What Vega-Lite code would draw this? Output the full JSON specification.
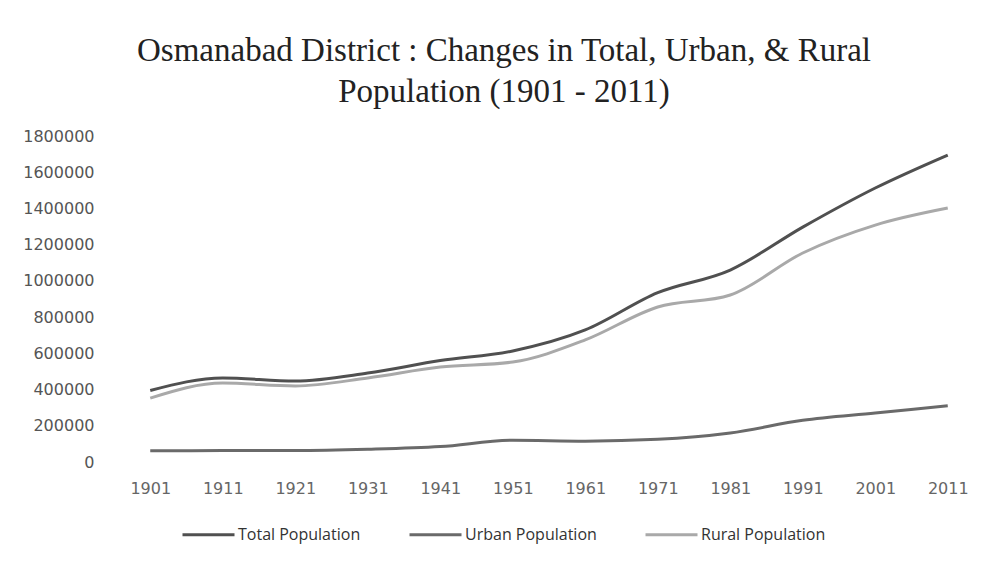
{
  "$schema": "https://vega.github.io/schema/vega-lite/v6.json",
  "width": 870,
  "height": 326,
  "autosize": {"type": "none"},
  "padding": {"left": 114, "top": 136, "right": 17, "bottom": 110},
  "background": "white",
  "title": {
    "text": ["Osmanabad District : Changes in Total, Urban, & Rural", "Population (1901 - 2011)"],
    "font": "Liberation Serif",
    "fontSize": 33,
    "fontWeight": "normal",
    "color": "#222222",
    "lineHeight": 41,
    "anchor": "middle",
    "baseline": "alphabetic",
    "dx": -45,
    "dy": 43,
    "offset": 36
  },
  "data": {
    "values": [
      {"year": "1901", "series": "Total Population", "value": 395000},
      {"year": "1911", "series": "Total Population", "value": 464000},
      {"year": "1921", "series": "Total Population", "value": 447000},
      {"year": "1931", "series": "Total Population", "value": 491000},
      {"year": "1941", "series": "Total Population", "value": 560000},
      {"year": "1951", "series": "Total Population", "value": 613000},
      {"year": "1961", "series": "Total Population", "value": 729000},
      {"year": "1971", "series": "Total Population", "value": 935000},
      {"year": "1981", "series": "Total Population", "value": 1060000},
      {"year": "1991", "series": "Total Population", "value": 1297000},
      {"year": "2001", "series": "Total Population", "value": 1513000},
      {"year": "2011", "series": "Total Population", "value": 1695000},
      {"year": "1901", "series": "Urban Population", "value": 62000},
      {"year": "1911", "series": "Urban Population", "value": 63000},
      {"year": "1921", "series": "Urban Population", "value": 63000},
      {"year": "1931", "series": "Urban Population", "value": 70000},
      {"year": "1941", "series": "Urban Population", "value": 85000},
      {"year": "1951", "series": "Urban Population", "value": 120000},
      {"year": "1961", "series": "Urban Population", "value": 115000},
      {"year": "1971", "series": "Urban Population", "value": 125000},
      {"year": "1981", "series": "Urban Population", "value": 160000},
      {"year": "1991", "series": "Urban Population", "value": 230000},
      {"year": "2001", "series": "Urban Population", "value": 270000},
      {"year": "2011", "series": "Urban Population", "value": 310000},
      {"year": "1901", "series": "Rural Population", "value": 353000},
      {"year": "1911", "series": "Rural Population", "value": 436000},
      {"year": "1921", "series": "Rural Population", "value": 420000},
      {"year": "1931", "series": "Rural Population", "value": 464000},
      {"year": "1941", "series": "Rural Population", "value": 524000},
      {"year": "1951", "series": "Rural Population", "value": 552000},
      {"year": "1961", "series": "Rural Population", "value": 674000},
      {"year": "1971", "series": "Rural Population", "value": 856000},
      {"year": "1981", "series": "Rural Population", "value": 922000},
      {"year": "1991", "series": "Rural Population", "value": 1154000},
      {"year": "2001", "series": "Rural Population", "value": 1308000},
      {"year": "2011", "series": "Rural Population", "value": 1402000}
    ]
  },
  "mark": {"type": "line", "interpolate": "monotone", "strokeWidth": 3},
  "encoding": {
    "x": {
      "field": "year",
      "type": "ordinal",
      "scale": {"type": "point", "padding": 0.5},
      "axis": {
        "title": null,
        "labelAngle": 0,
        "domain": false,
        "ticks": false,
        "labelPadding": 18,
        "labelFont": "DejaVu Sans",
        "labelFontSize": 16,
        "labelColor": "#666666"
      }
    },
    "y": {
      "field": "value",
      "type": "quantitative",
      "scale": {"domain": [0, 1800000], "nice": false},
      "axis": {
        "title": null,
        "values": [0, 200000, 400000, 600000, 800000, 1000000, 1200000, 1400000, 1600000, 1800000],
        "format": "d",
        "grid": false,
        "domain": false,
        "ticks": false,
        "labelPadding": 20,
        "labelFont": "DejaVu Sans",
        "labelFontSize": 16,
        "labelColor": "#555555"
      }
    },
    "color": {
      "field": "series",
      "type": "nominal",
      "scale": {
        "domain": ["Total Population", "Urban Population", "Rural Population"],
        "range": ["#505050", "#6a6a6a", "#a9a9a9"]
      },
      "legend": {
        "title": null,
        "orient": "none",
        "direction": "horizontal",
        "legendX": 67,
        "legendY": 371,
        "symbolType": "stroke",
        "symbolSize": 2704,
        "symbolStrokeWidth": 3,
        "labelOffset": 2,
        "columnPadding": 42,
        "labelFont": "Open Sans",
        "labelFontSize": 16,
        "labelColor": "#333333",
        "labelLimit": 300
      }
    }
  },
  "config": {"view": {"stroke": null}}
}
